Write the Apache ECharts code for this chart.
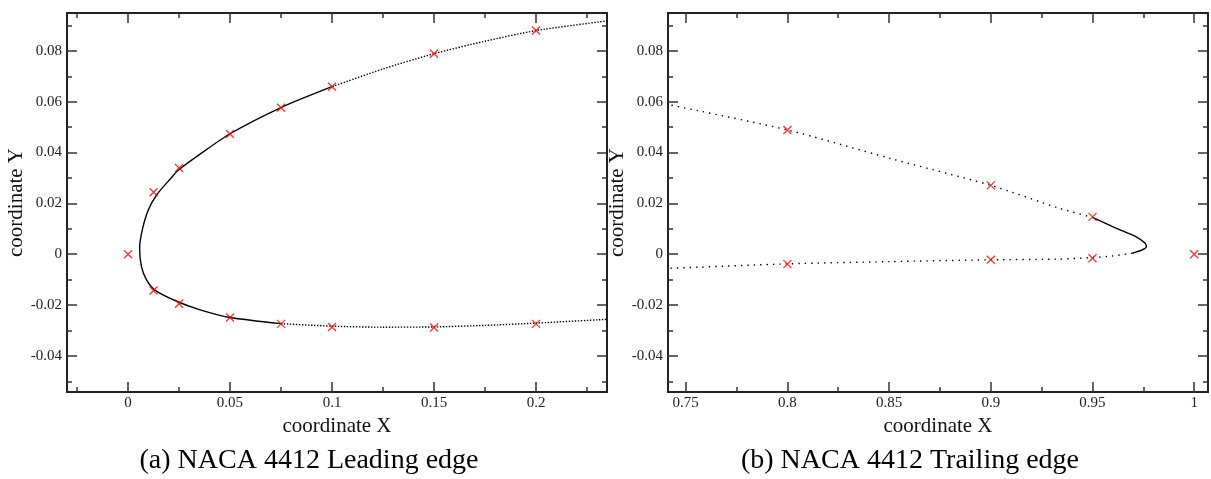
<!DOCTYPE html>
<html>
<head>
<meta charset="utf-8">
<script src="https://cdn.jsdelivr.net/npm/echarts@6/dist/echarts.min.js"></script>
<style>
html,body{margin:0;padding:0;background:#fff;}
#chart{width:1211px;height:479px;}
</style>
</head>
<body>
<div id="chart"></div>
<script>
// ---- Data ----
const ticksY = [-0.04, -0.02, 0, 0.02, 0.04, 0.06, 0.08];
const labelsY = ['-0.04', '-0.02', '0', '0.02', '0.04', '0.06', '0.08'];
const minorY = [-0.05, -0.03, -0.01, 0.01, 0.03, 0.05, 0.07, 0.09];
const ticksXa = [0, 0.05, 0.1, 0.15, 0.2];
const labelsXa = ['0', '0.05', '0.1', '0.15', '0.2'];
const minorXa = [-0.025, 0.025, 0.075, 0.125, 0.175, 0.225];
const ticksXb = [0.75, 0.8, 0.85, 0.9, 0.95, 1];
const labelsXb = ['0.75', '0.8', '0.85', '0.9', '0.95', '1'];
const minorXb = [0.775, 0.825, 0.875, 0.925, 0.975];

// NACA 4412 tabulated points (red crosses)
const markX = [0, 0.0125, 0.025, 0.05, 0.075, 0.1, 0.15, 0.2, 0.8, 0.9, 0.95, 1.0,
               0.0125, 0.025, 0.05, 0.075, 0.1, 0.15, 0.2, 0.8, 0.9, 0.95];
const markY = [0, 0.0244, 0.0339, 0.0473, 0.0576, 0.0659, 0.0789, 0.0880, 0.0489, 0.0271, 0.0147, 0.0,
               -0.0143, -0.0195, -0.0249, -0.0274, -0.0286, -0.0288, -0.0274, -0.0039, -0.0022, -0.0016];

// Refined airfoil curve, leading-edge region (upper surface from right, around nose, lower surface to right)
const leCurveX = [0.235, 0.2, 0.175, 0.15, 0.125, 0.1, 0.075, 0.05, 0.035, 0.025, 0.0206, 0.0141, 0.0100, 0.0070, 0.0057,
                  0.0066, 0.0091, 0.0132, 0.0230, 0.035, 0.05, 0.075, 0.1, 0.125, 0.15, 0.175, 0.2, 0.235];
const leCurveY = [0.0918, 0.0880, 0.0838, 0.0789, 0.0729, 0.0659, 0.0577, 0.0474, 0.0392, 0.0333, 0.0295, 0.0234, 0.0175, 0.0096, 0.0024,
                  -0.0049, -0.0101, -0.0141, -0.0182, -0.0218, -0.0249, -0.0273, -0.0283, -0.0287, -0.0286, -0.0280, -0.0271, -0.0256];

// Refined airfoil curve, trailing-edge region (upper surface from left, around tip, lower surface to left)
const teCurveX = [0.74, 0.8, 0.85, 0.9, 0.9336, 0.95, 0.9615, 0.9713, 0.9759, 0.9765, 0.9745, 0.9696, 0.9598, 0.95, 0.9336, 0.9, 0.85, 0.8, 0.74];
const teCurveY = [0.0591, 0.0489, 0.0378, 0.0271, 0.0181, 0.0145, 0.0103, 0.0069, 0.0043, 0.0030, 0.0017, 0.0004, -0.0007, -0.0013, -0.0019, -0.0022, -0.0029, -0.0038, -0.0056];

const captions = ['(a) NACA 4412 Leading edge', '(b) NACA 4412 Trailing edge'];
const xTitle = 'coordinate X', yTitle = 'coordinate Y';

// ---- Layout ----
const FONT = 'Liberation Serif';
const INK = '#222';
const grids = [
  {left: 67, top: 13, width: 540, height: 379},
  {left: 668, top: 13, width: 540, height: 379}
];
const xRanges = [[-0.0299, 0.2348], [0.7413, 1.0068]];
const yRange = [-0.0542, 0.0949];

function fmt(ticks, labels) {
  return function (v) {
    let best = 0;
    for (let i = 1; i < ticks.length; i++) if (Math.abs(ticks[i] - v) < Math.abs(ticks[best] - v)) best = i;
    return labels[best];
  };
}

const xAxes = [], yAxes = [];
function addAxes(g, xr, tX, lX, mX) {
  const base = (min, max, pos, axisLineShow) => ({
    type: 'value', gridIndex: g, min: min, max: max, position: pos,
    axisLine: {show: axisLineShow, onZero: false, lineStyle: {color: INK, width: 2}},
    splitLine: {show: false}, scale: true
  });
  const tick = (vals, len) => ({show: true, inside: true, length: len, customValues: vals, lineStyle: {color: '#333', width: 1.5}});
  const xb = base(xr[0], xr[1], 'bottom', true);
  xb.axisTick = tick(tX, 10);
  xb.axisLabel = {show: true, customValues: tX, formatter: fmt(tX, lX), margin: 4,
                  fontFamily: FONT, fontSize: 15, color: INK};
  xb.name = xTitle; xb.nameLocation = 'middle'; xb.nameGap = 21;
  xb.nameTextStyle = {fontFamily: FONT, fontSize: 21, color: '#111'};
  const mainX = xAxes.length; xAxes.push(xb);
  const xbm = base(xr[0], xr[1], 'bottom', false);
  xbm.axisTick = tick(mX, 5); xbm.axisLabel = {show: false}; xAxes.push(xbm);
  const xt = base(xr[0], xr[1], 'top', true);
  xt.axisTick = tick(tX, 10); xt.axisLabel = {show: false}; xAxes.push(xt);
  const xtm = base(xr[0], xr[1], 'top', false);
  xtm.axisTick = tick(mX, 5); xtm.axisLabel = {show: false}; xAxes.push(xtm);

  const yl = base(yRange[0], yRange[1], 'left', true);
  yl.axisTick = tick(ticksY, 10);
  yl.axisLabel = {show: true, customValues: ticksY, formatter: fmt(ticksY, labelsY), margin: 5,
                  fontFamily: FONT, fontSize: 15, color: INK};
  yl.name = yTitle; yl.nameLocation = 'middle'; yl.nameGap = 37; yl.nameRotate = 90;
  yl.nameTextStyle = {fontFamily: FONT, fontSize: 21, color: '#111'};
  const mainY = yAxes.length; yAxes.push(yl);
  const ylm = base(yRange[0], yRange[1], 'left', false);
  ylm.axisTick = tick(minorY, 5); ylm.axisLabel = {show: false}; yAxes.push(ylm);
  const yr = base(yRange[0], yRange[1], 'right', true);
  yr.axisTick = tick(ticksY, 10); yr.axisLabel = {show: false}; yAxes.push(yr);
  const yrm = base(yRange[0], yRange[1], 'right', false);
  yrm.axisTick = tick(minorY, 5); yrm.axisLabel = {show: false}; yAxes.push(yrm);
  return {x: mainX, y: mainY};
}

const axA = addAxes(0, xRanges[0], ticksXa, labelsXa, minorXa);
const axB = addAxes(1, xRanges[1], ticksXb, labelsXb, minorXb);

function pairs(xs, ys, filt) {
  const out = [];
  for (let i = 0; i < xs.length; i++) if (!filt || filt(xs[i], ys[i], i)) out.push([xs[i], ys[i]]);
  return out;
}
function segments(xs, ys, solidTest) {
  const segs = [];
  let cur = null;
  for (let i = 0; i < xs.length; i++) {
    const s = solidTest(xs[i]);
    if (!cur || cur.solid !== s) {
      const seg = {solid: s, pts: []};
      if (cur) seg.pts.push(cur.pts[cur.pts.length - 1]);
      segs.push(seg); cur = seg;
    }
    cur.pts.push([xs[i], ys[i]]);
  }
  return segs;
}

const series = [];
function addCurve(ax, xs, ys, solidTest, dotDash) {
  segments(xs, ys, solidTest).forEach(seg => {
    series.push({
      type: 'line', xAxisIndex: ax.x, yAxisIndex: ax.y, data: seg.pts,
      showSymbol: false, symbol: 'none', smooth: 0.25, clip: true, silent: true,
      lineStyle: {color: '#000', width: 1.4, type: seg.solid ? 'solid' : dotDash, cap: 'butt'},
      z: 2
    });
  });
}
addCurve(axA, leCurveX, leCurveY, x => x <= 0.075, [1.4, 1.6]);
addCurve(axB, teCurveX, teCurveY, x => x >= 0.96, [1.4, 5]);

const crossPath = 'path://M0,0L10,10M10,0L0,10';
function addMarks(ax, xr) {
  series.push({
    type: 'scatter', xAxisIndex: ax.x, yAxisIndex: ax.y,
    data: pairs(markX, markY, (x) => x >= xr[0] && x <= xr[1]),
    symbol: crossPath, symbolSize: 8,
    itemStyle: {color: 'rgba(0,0,0,0)', borderColor: '#ff0000', borderWidth: 1.3},
    clip: false, silent: true, z: 3
  });
}
addMarks(axA, xRanges[0]);
addMarks(axB, xRanges[1]);

const chart = echarts.init(document.getElementById('chart'), null, {renderer: 'canvas'});
chart.setOption({
  animation: false,
  backgroundColor: '#fff',
  grid: grids.map(g => Object.assign({containLabel: false}, g)),
  xAxis: xAxes,
  yAxis: yAxes,
  series: series,
  graphic: [
    {type: 'text', x: 309, y: 461,
     style: {text: captions[0], font: '28px "Liberation Serif"', fill: '#000', textAlign: 'center', textVerticalAlign: 'middle'}},
    {type: 'text', x: 910, y: 461,
     style: {text: captions[1], font: '28px "Liberation Serif"', fill: '#000', textAlign: 'center', textVerticalAlign: 'middle'}}
  ]
});
</script>
</body>
</html>
